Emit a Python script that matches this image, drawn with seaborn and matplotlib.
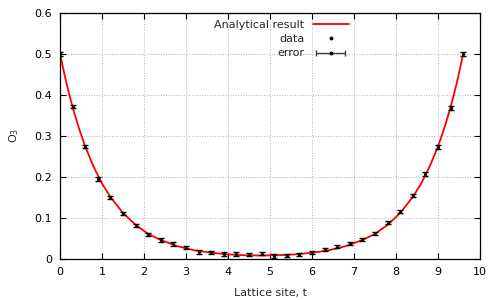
import seaborn as sns
from matplotlib import pyplot as plt
from matplotlib.lines import Line2D
from matplotlib.legend_handler import HandlerLine2D

# measured points (lattice site t, O_3, error)
t = [0.0, 0.3, 0.6, 0.9, 1.2, 1.5, 1.8, 2.1, 2.4, 2.7, 3.0, 3.3, 3.6, 3.9, 4.2, 4.5, 4.8,
     5.1, 5.4, 5.7, 6.0, 6.3, 6.6, 6.9, 7.2, 7.5, 7.8, 8.1, 8.4, 8.7, 9.0, 9.3, 9.6]
o3 = [0.500, 0.371, 0.274, 0.195, 0.149, 0.110, 0.082, 0.060, 0.046, 0.036, 0.027, 0.017,
      0.015, 0.012, 0.012, 0.010, 0.013, 0.007, 0.008, 0.010, 0.016, 0.023, 0.030, 0.038,
      0.047, 0.062, 0.088, 0.115, 0.155, 0.207, 0.273, 0.368, 0.500]
err = [0.004] * len(t)

# analytical curve
curve_t = [0.0, 0.15, 0.3, 0.45, 0.6, 0.8, 1.0, 1.2, 1.5, 1.8, 2.1, 2.4, 2.8, 3.2, 3.6, 4.0,
           4.4, 4.8, 5.2, 5.6, 6.0, 6.4, 6.8, 7.2, 7.5, 7.8, 8.1, 8.4, 8.6, 8.8, 9.0, 9.15,
           9.3, 9.45, 9.6]
curve_y = [0.500, 0.430, 0.370, 0.319, 0.274, 0.225, 0.184, 0.151, 0.112, 0.083, 0.061,
           0.046, 0.031, 0.021, 0.015, 0.011, 0.0089, 0.0082, 0.0089, 0.011, 0.015, 0.021,
           0.031, 0.046, 0.061, 0.083, 0.112, 0.151, 0.184, 0.225, 0.274, 0.319, 0.370,
           0.430, 0.500]

xticks = list(range(0, 11))
yticks = [0, 0.1, 0.2, 0.3, 0.4, 0.5, 0.6]
yticklabels = ['0', '0.1', '0.2', '0.3', '0.4', '0.5', '0.6']

sns.set_style('ticks')
plt.rcParams['font.family'] = ['DejaVu Sans']
plt.rcParams['font.size'] = 8

fig = plt.figure(figsize=(5, 3), dpi=100)
ax = fig.add_axes([0.12, 0.137, 0.84, 0.82])

sns.lineplot(x=curve_t, y=curve_y, color='red', lw=1.3, ax=ax, sort=False, zorder=2)
ax.errorbar(t, o3, yerr=err, fmt='none', ecolor='black', elinewidth=1.0,
            capsize=2.2, capthick=1.0, zorder=3)
sns.scatterplot(x=t, y=o3, s=5, color='black', linewidth=0, ax=ax, zorder=4)

ax.set_xlim(0, 10)
ax.set_ylim(0, 0.6)
ax.set_xticks(xticks)
ax.set_yticks(yticks)
ax.set_yticklabels(yticklabels)
ax.tick_params(direction='in', top=True, right=True, length=4, width=0.8,
               labelsize=8, colors='black', pad=5.5)
ax.set_xlabel('Lattice site, t', fontsize=8, labelpad=8)
ax.set_ylabel('O$_3$', fontsize=8, labelpad=10)
ax.grid(ls=':', lw=0.7, c='gray', alpha=0.6)
for s in ax.spines.values():
    s.set_linewidth(0.9)
    s.set_color('black')

h_curve = Line2D([], [], color='red', lw=1.3)
h_data = Line2D([], [], ls='none', marker='o', ms=1.8, color='black')
h_caps = Line2D([], [], color='#444444', lw=1.0, marker='|', ms=5, mew=1.0)
h_dot = Line2D([], [], ls='none', marker='o', ms=1.8, color='black')
ax.legend([h_curve, h_data, (h_caps, h_dot)], ['Analytical result', 'data', 'error'],
          handler_map={h_caps: HandlerLine2D(numpoints=2)},
          markerfirst=False, frameon=False, loc='upper right',
          bbox_to_anchor=(0.703, 1.0), handlelength=3.2, labelspacing=0.4,
          handletextpad=0.8, borderaxespad=0.2, fontsize=8)

fig.savefig('out.png', dpi=100)
